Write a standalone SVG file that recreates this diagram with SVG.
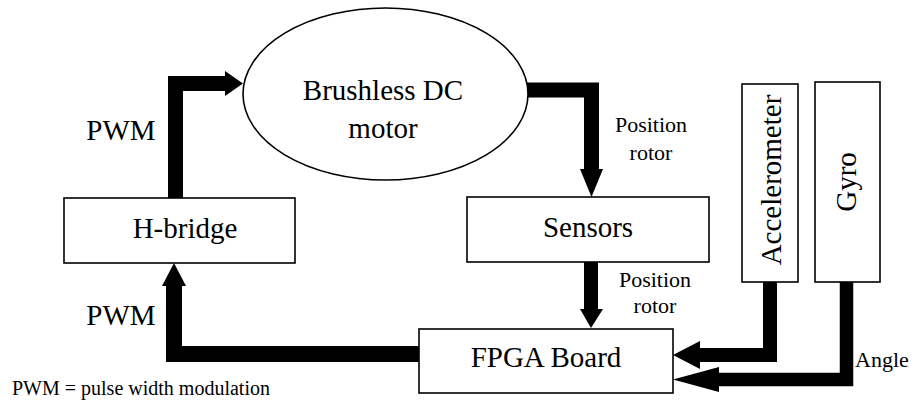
<svg xmlns="http://www.w3.org/2000/svg" width="913" height="401" viewBox="0 0 913 401">
  <style>
    .box { fill: #fff; stroke: #000; stroke-width: 1.6; }
    .big { font-family: 'Liberation Serif', 'DejaVu Serif', serif; font-size: 29px; fill: #000; }
    .small { font-family: 'Liberation Serif', 'DejaVu Serif', serif; font-size: 22px; fill: #000; }
    .note { font-family: 'Liberation Serif', 'DejaVu Serif', serif; font-size: 20px; fill: #000; }
    .bar { fill: none; stroke: #000; stroke-width: 15; stroke-linejoin: miter; }
    .head { fill: #000; stroke: none; }
  </style>
  <rect width="913" height="401" fill="#fff"/>

  <!-- connectors -->
  <g id="connectors">
    <!-- H-bridge to motor -->
    <polyline class="bar" points="175.5,198 175.5,83.5 226,83.5"/>
    <polygon class="head" points="225,71 243,83.5 225,96"/>
    <!-- motor to sensors -->
    <polyline class="bar" points="527,90 591.5,90 591.5,170"/>
    <polygon class="head" points="580,169 603,169 591.5,197"/>
    <!-- sensors to FPGA -->
    <line class="bar" x1="591" y1="262" x2="591" y2="310" style="stroke-width:14"/>
    <polygon class="head" points="580,309 603,309 591,328"/>
    <!-- FPGA to H-bridge -->
    <polyline class="bar" points="419,354 174,354 174,285" style="stroke-width:16"/>
    <polygon class="head" points="162,286 186,286 174,263"/>
    <!-- accelerometer to FPGA -->
    <polyline class="bar" points="770,282 770,355 698,355" style="stroke-width:14"/>
    <polygon class="head" points="700,341 673,355 700,369"/>
    <!-- gyro to FPGA -->
    <polyline class="bar" points="846.5,282 846.5,379.5 717,379.5" style="stroke-width:13.5"/>
    <polygon class="head" points="719,367 673,379.5 719,392"/>
  </g>

  <g id="motor">
    <ellipse cx="385.5" cy="94" rx="142.5" ry="86" fill="#fff" stroke="#000" stroke-width="1.6"/>
    <text class="big" x="383" y="100" text-anchor="middle">Brushless DC</text>
    <text class="big" x="383" y="138" text-anchor="middle">motor</text>
  </g>

  <g id="hbridge">
    <rect class="box" x="64" y="198" width="231" height="65"/>
    <text class="big" x="185" y="238" text-anchor="middle">H-bridge</text>
  </g>

  <g id="sensors">
    <rect class="box" x="467" y="197" width="242" height="65"/>
    <text class="big" x="588" y="237" text-anchor="middle">Sensors</text>
  </g>

  <g id="fpga">
    <rect class="box" x="419" y="329" width="254" height="64"/>
    <text class="big" x="546" y="367" text-anchor="middle">FPGA Board</text>
  </g>

  <g id="accelerometer">
    <rect class="box" x="742" y="84" width="56" height="198"/>
    <text class="big" transform="translate(781,180) rotate(-90)" text-anchor="middle">Accelerometer</text>
  </g>

  <g id="gyro">
    <rect class="box" x="815" y="82" width="65" height="200"/>
    <text class="big" transform="translate(856,182) rotate(-90)" text-anchor="middle">Gyro</text>
  </g>

  <g id="labels">
    <text class="big" x="121" y="140" text-anchor="middle">PWM</text>
    <text class="big" x="121" y="325" text-anchor="middle">PWM</text>
    <text class="small" x="651" y="132" text-anchor="middle">Position</text>
    <text class="small" x="651" y="160" text-anchor="middle">rotor</text>
    <text class="small" x="655" y="287" text-anchor="middle">Position</text>
    <text class="small" x="655" y="313" text-anchor="middle">rotor</text>
    <text class="small" x="855" y="367">Angle</text>
    <text class="note" x="12" y="395">PWM = pulse width modulation</text>
  </g>
</svg>
